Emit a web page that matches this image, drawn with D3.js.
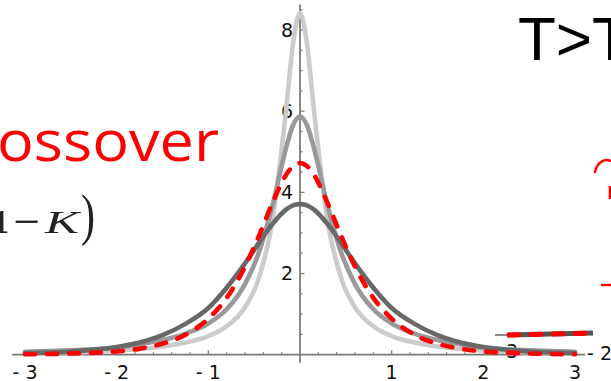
<!DOCTYPE html>
<html>
<head>
<meta charset="utf-8">
<script src="https://cdn.jsdelivr.net/npm/d3@7"></script>
<style>
  html, body { margin: 0; padding: 0; background: #fff; }
  svg { display: block; }
</style>
</head>
<body>
<script>
// Sample positions along the frequency axis
const xs = [-3, -2.5, -2, -1.75, -1.5, -1.25, -1, -0.8, -0.6, -0.45, -0.3, -0.15, -0.075, 0,
            0.075, 0.15, 0.3, 0.45, 0.6, 0.8, 1, 1.25, 1.5, 1.75, 2, 2.5, 3];

// Spectral curves (values at xs)
const lightCurve  = [0.04, 0.06, 0.10, 0.14, 0.20, 0.30, 0.46, 0.70, 1.17, 1.88, 3.31, 6.07, 7.68, 8.42,
                     7.68, 6.07, 3.31, 1.88, 1.17, 0.70, 0.46, 0.30, 0.20, 0.14, 0.10, 0.06, 0.04];
const mediumCurve = [0.07, 0.11, 0.17, 0.26, 0.36, 0.52, 0.77, 1.12, 1.74, 2.51, 3.68, 5.11, 5.66, 5.87,
                     5.66, 5.11, 3.68, 2.51, 1.74, 1.12, 0.77, 0.52, 0.36, 0.26, 0.17, 0.11, 0.07];
const darkCurve   = [0.04, 0.08, 0.19, 0.30, 0.48, 0.76, 1.15, 1.65, 2.25, 2.75, 3.22, 3.58, 3.68, 3.71,
                     3.68, 3.58, 3.22, 2.75, 2.25, 1.65, 1.15, 0.76, 0.48, 0.30, 0.19, 0.08, 0.04];
const redCurve    = [0.01, 0.03, 0.08, 0.15, 0.27, 0.49, 0.89, 1.40, 2.17, 2.92, 3.74, 4.44, 4.65, 4.72,
                     4.65, 4.44, 3.74, 2.92, 2.17, 1.40, 0.89, 0.49, 0.27, 0.15, 0.08, 0.03, 0.01];

// Axis ticks
const xMajorTicks = [-3, -2, -1, 1, 2, 3];
const yMajorTicks = [2, 4, 6, 8];

const W = 611, H = 381;
const svg = d3.select("body").append("svg").attr("width", W).attr("height", H);

const x = d3.scaleLinear().domain([-3, 3]).range([25, 575]);
const y = d3.scaleLinear().domain([0, 8]).range([354.7, 30]);

const axisColor = "#7a7a7a";
const tickFont = "'DejaVu Sans', Verdana, sans-serif";
const tickSize = 19;
const fmt = d => d < 0 ? "- " + Math.abs(d) : String(d);

// Blur for the raster-looking formula fragment
const defs = svg.append("defs");
defs.append("filter").attr("id", "soft")
  .append("feGaussianBlur").attr("stdDeviation", 0.7);

// Slide text
svg.append("text")
  .attr("x", 518).attr("y", 60)
  .attr("font-family", "'Liberation Sans', Arial, sans-serif")
  .attr("font-size", 62).attr("fill", "#000")
  .text("T>T");

svg.append("text")
  .attr("x", -3).attr("y", 161)
  .attr("font-family", "'Open Sans', sans-serif")
  .attr("font-size", 56).attr("fill", "#ff0000")
  .attr("textLength", 222).attr("lengthAdjust", "spacingAndGlyphs")
  .text("ossover");

// Formula fragment "1−K)"
const formula = svg.append("g")
  .attr("font-family", "'Liberation Serif', 'Times New Roman', serif")
  .attr("fill", "#222")
  .attr("filter", "url(#soft)");
formula.append("text")
  .attr("x", 9).attr("y", 233).attr("text-anchor", "end")
  .attr("font-size", 34).attr("font-weight", "bold")
  .text("1");
formula.append("text")
  .attr("x", 13).attr("y", 233)
  .attr("font-size", 34).attr("font-weight", "bold")
  .attr("textLength", 27).attr("lengthAdjust", "spacingAndGlyphs")
  .text("\u2212");
formula.append("text")
  .attr("x", 45).attr("y", 233)
  .attr("font-size", 32).attr("font-style", "italic")
  .attr("textLength", 34).attr("lengthAdjust", "spacingAndGlyphs")
  .text("K");
formula.append("text")
  .attr("x", 81).attr("y", 234)
  .attr("font-size", 58)
  .attr("textLength", 14).attr("lengthAdjust", "spacingAndGlyphs")
  .text(")");

// Red hand-written strokes at the right edge
svg.append("path")
  .attr("d", "M595,172 C597,162 605,158 611,161")
  .attr("fill", "none").attr("stroke", "#ff0000").attr("stroke-width", 2.4).attr("stroke-linecap", "round");
svg.append("path")
  .attr("d", "M610,186 L610,199")
  .attr("fill", "none").attr("stroke", "#ff0000").attr("stroke-width", 2.4);
svg.append("path")
  .attr("d", "M601,285 L611,285")
  .attr("fill", "none").attr("stroke", "#ff0000").attr("stroke-width", 2.4);

// Labels of the neighbouring plot (partly covered)
svg.append("text")
  .attr("x", 493).attr("y", 358)
  .attr("font-family", tickFont).attr("font-size", tickSize).attr("fill", "#111")
  .text("- 3");
svg.append("text")
  .attr("x", 587).attr("y", 360)
  .attr("font-family", tickFont).attr("font-size", tickSize).attr("fill", "#111")
  .text("- 2");

// Y tick labels
svg.append("g").selectAll("text").data(yMajorTicks).join("text")
  .attr("x", 293).attr("y", d => y(d)).attr("dy", "0.36em")
  .attr("text-anchor", "end")
  .attr("font-family", tickFont).attr("font-size", tickSize).attr("fill", "#111")
  .text(d => d);

// X tick labels
svg.append("g").selectAll("text").data(xMajorTicks).join("text")
  .attr("x", d => x(d)).attr("y", 379)
  .attr("text-anchor", "middle")
  .attr("font-family", tickFont).attr("font-size", tickSize).attr("fill", "#111")
  .text(fmt);

// Axes lines
svg.append("line")
  .attr("x1", x(-3.14)).attr("x2", x(3.11)).attr("y1", y(0)).attr("y2", y(0))
  .attr("stroke", axisColor).attr("stroke-width", 1.8);
svg.append("line")
  .attr("x1", x(0)).attr("x2", x(0)).attr("y1", y(8.63)).attr("y2", y(-0.2))
  .attr("stroke", axisColor).attr("stroke-width", 1.8);

// X ticks (drawn upward from the axis)
const xMinor = d3.range(-30, 31, 2).map(d => d / 10).filter(d => Math.abs(d - Math.round(d)) > 1e-6);
const xAll = xMinor.map(v => ({ v, len: 2.5 })).concat(xMajorTicks.map(v => ({ v, len: 4.5 })));
svg.append("g").selectAll("line").data(xAll).join("line")
  .attr("x1", d => x(d.v)).attr("x2", d => x(d.v))
  .attr("y1", y(0)).attr("y2", d => y(0) - d.len)
  .attr("stroke", axisColor).attr("stroke-width", 1.2);

// Y ticks (drawn to the right of the axis)
const yMinor = d3.range(1, 18).map(d => d / 2).filter(d => !yMajorTicks.includes(d));
const yAll = yMinor.map(v => ({ v, len: 2.5 })).concat(yMajorTicks.map(v => ({ v, len: 4.5 })));
svg.append("g").selectAll("line").data(yAll).join("line")
  .attr("x1", x(0)).attr("x2", d => x(0) + d.len)
  .attr("y1", d => y(d.v)).attr("y2", d => y(d.v))
  .attr("stroke", axisColor).attr("stroke-width", 1.2);

// Curve of the neighbouring plot
const sideX = d3.scaleLinear().domain([0, 1]).range([507, 593]);
const sideY = [335, 333];
svg.append("line")
  .attr("x1", sideX(0) - 12).attr("x2", sideX(0)).attr("y1", sideY[0]).attr("y2", sideY[0])
  .attr("stroke", "#444").attr("stroke-width", 1.2);
svg.append("line")
  .attr("x1", sideX(0)).attr("x2", sideX(1)).attr("y1", sideY[0]).attr("y2", sideY[1])
  .attr("stroke", "#555").attr("stroke-width", 5);
svg.append("line")
  .attr("x1", sideX(0) + 2).attr("x2", sideX(1)).attr("y1", sideY[0]).attr("y2", sideY[1])
  .attr("stroke", "#ff0000").attr("stroke-width", 5)
  .attr("stroke-dasharray", "10,12").attr("stroke-linecap", "round");

// Main curves
const line = d3.line()
  .x((d, i) => x(xs[i]))
  .y(d => y(d))
  .curve(d3.curveMonotoneX);

const series = [
  { vals: lightCurve,  color: "#cbcbcb", dash: null },
  { vals: mediumCurve, color: "#999999", dash: null },
  { vals: darkCurve,   color: "#686868", dash: null },
  { vals: redCurve,    color: "#ff0000", dash: "10,12" }
];

svg.append("g").selectAll("path").data(series).join("path")
  .attr("d", d => line(d.vals))
  .attr("fill", "none")
  .attr("stroke", d => d.color)
  .attr("stroke-width", 4.6)
  .attr("stroke-linecap", "round")
  .attr("stroke-linejoin", "round")
  .attr("stroke-dasharray", d => d.dash);
</script>
</body>
</html>
